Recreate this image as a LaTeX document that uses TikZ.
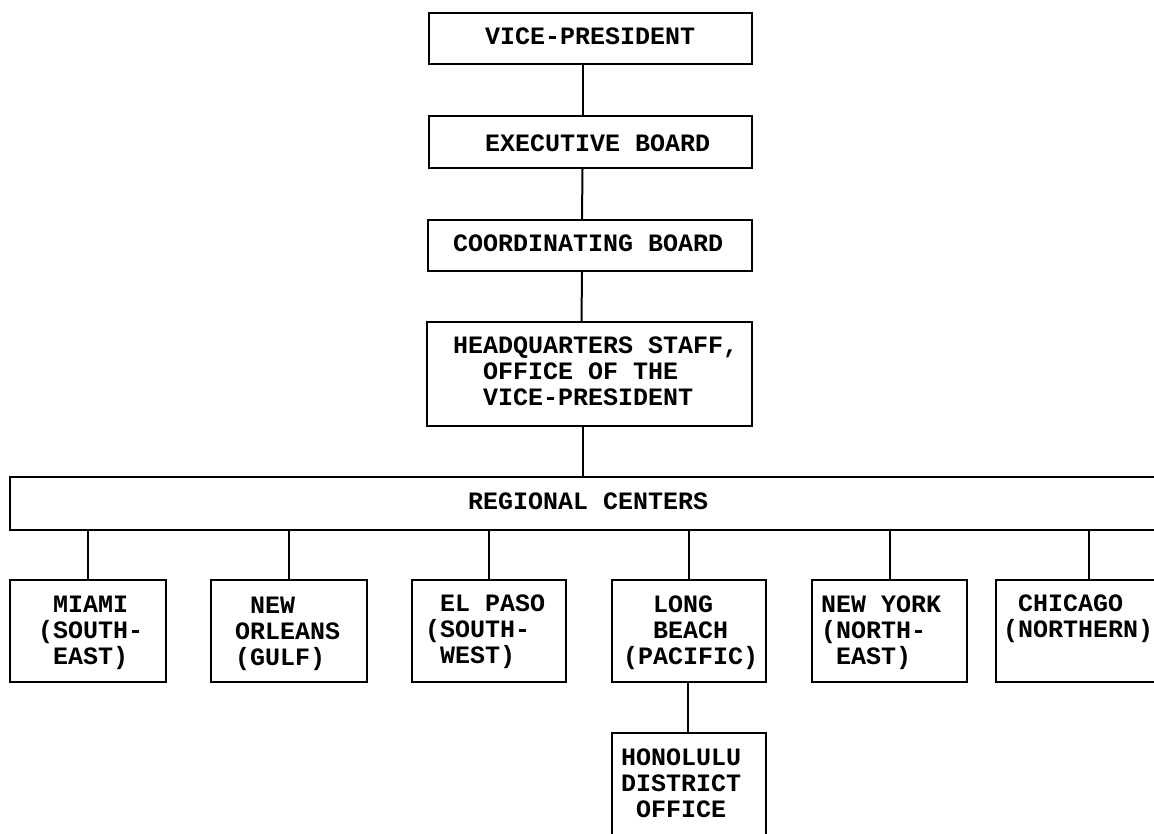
\documentclass[tikz,border=0pt]{standalone}
\usepackage{fontspec}
\setmonofont{Liberation Mono}
\newcommand\tpad{\hphantom{X}}
\begin{document}
\begin{tikzpicture}[x=1pt,y=-1pt,
  box/.style={draw, line width=2pt, inner sep=0pt},
  lbl/.style={font=\ttfamily\bfseries\fontsize{25}{26}\selectfont, inner sep=0pt, anchor=north west, align=left},
  link/.style={line width=2pt}]
\useasboundingbox (0,0) rectangle (1154,833);
\clip (0,0) rectangle (1154,833);
% boxes
\node[box, minimum width=323pt, minimum height=51pt] (vp) at (590.5,38.5) {};
\node[box, minimum width=323pt, minimum height=52pt] (eb) at (590.5,142) {};
\node[box, minimum width=324pt, minimum height=51pt] (cb) at (590,245.5) {};
\node[box, minimum width=325pt, minimum height=104pt] (hq) at (589.5,374) {};
\node[box, minimum width=1160pt, minimum height=53pt] (rc) at (590,503.5) {};
\node[box, minimum width=156pt, minimum height=102pt] (mia) at (88,631) {};
\node[box, minimum width=156pt, minimum height=102pt] (nor) at (289,631) {};
\node[box, minimum width=154pt, minimum height=102pt] (elp) at (489,631) {};
\node[box, minimum width=154pt, minimum height=102pt] (lbc) at (689,631) {};
\node[box, minimum width=155pt, minimum height=102pt] (nyk) at (889.5,631) {};
\node[box, minimum width=186pt, minimum height=102pt] (chi) at (1089,631) {};
\node[box, minimum width=154pt, minimum height=117pt] (hon) at (689,791.5) {};
% connectors
\draw[link] ([xshift=-8pt]vp.south) -- ([xshift=-8pt]eb.north);
\draw[link] ([xshift=-8pt]eb.south) -- ([xshift=-8pt]cb.north);
\draw[link] ([xshift=-8pt]cb.south) -- ([xshift=-8pt]hq.north);
\draw[link] ([xshift=-7pt]hq.south) -- ([xshift=-7pt]hq.south |- rc.north);
\foreach \c in {mia,nor,elp,lbc,nyk,chi}
  \draw[link] (\c.north) -- (\c.north |- rc.south);
\draw[link] ([xshift=-1pt]lbc.south) -- ([xshift=-1pt]hon.north);
% texts
\node[lbl] (t-vp) at (485,28) {VICE-PRESIDENT};
\node[lbl] (t-eb) at (485,135) {EXECUTIVE BOARD};
\node[lbl] (t-cb) at (453,235) {COORDINATING BOARD};
\node[lbl] (t-hq) at (453,337) {HEADQUARTERS STAFF,\\\tpad\tpad OFFICE OF THE\\\tpad\tpad VICE-PRESIDENT};
\node[lbl] (t-rc) at (468,493) {REGIONAL CENTERS};
\node[lbl] (t-mia) at (38,596) {\tpad MIAMI\\(SOUTH-\\\tpad EAST)};
\node[lbl] (t-nor) at (235,597) {\tpad NEW\\ORLEANS\\(GULF)};
\node[lbl] (t-elp) at (425,595) {\tpad EL PASO\\(SOUTH-\\\tpad WEST)};
\node[lbl] (t-lbc) at (623,596) {\tpad\tpad LONG\\\tpad\tpad BEACH\\(PACIFIC)};
\node[lbl] (t-nyk) at (821,596) {NEW YORK\\(NORTH-\\\tpad EAST)};
\node[lbl] (t-chi) at (1003,595) {\tpad CHICAGO\\(NORTHERN)};
\node[lbl] (t-hon) at (621,749) {HONOLULU\\DISTRICT\\\tpad OFFICE};
\end{tikzpicture}
\end{document}
